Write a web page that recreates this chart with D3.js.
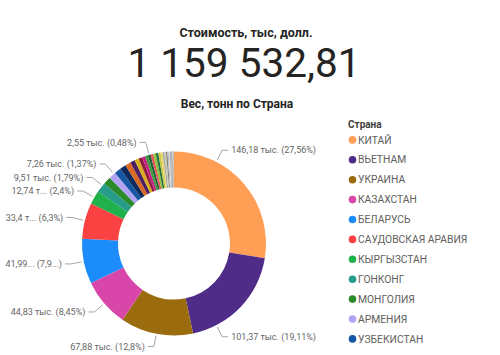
<!DOCTYPE html>
<html><head><meta charset="utf-8">
<script src="https://cdn.jsdelivr.net/npm/d3@7"></script>
<style>
html,body{margin:0;padding:0;background:#fff;}
svg{display:block;}
</style></head>
<body>
<svg id="chart" width="500" height="355"></svg>
<script>
// ---- data ----
const cardTitle = "Стоимость, тыс, долл.";
const cardValue = "1 159 532,81";
const chartTitle = "Вес, тонн по Страна";
const legendTitle = "Страна";

const categories = [
  "КИТАЙ","ВЬЕТНАМ","УКРАИНА","КАЗАХСТАН","БЕЛАРУСЬ","САУДОВСКАЯ АРАВИЯ",
  "КЫРГЫЗСТАН","ГОНКОНГ","МОНГОЛИЯ","АРМЕНИЯ","УЗБЕКИСТАН",
  "ТУРЦИЯ","ИНДИЯ","ИРАН","ТАДЖИКИСТАН","ГЕРМАНИЯ","ИТАЛИЯ","ЮЖНАЯ КОРЕЯ","ЯПОНИЯ","ПОЛЬША",
  "США","ЛИТВА","ЛАТВИЯ","ЭСТОНИЯ","ГРУЗИЯ","АЗЕРБАЙДЖАН","ТУРКМЕНИЯ","ФРАНЦИЯ","ИСПАНИЯ",
  "НИДЕРЛАНДЫ","ФИНЛЯНДИЯ","ЧЕХИЯ","ВЕНГРИЯ","СЕРБИЯ","ИЗРАИЛЬ","ЕГИПЕТ"
];
// thousand tonnes
const values = [
  146.18,101.37,67.88,44.83,41.99,33.4,
  12.74,9.51,7.26,6.5,6.1,
  5.7,5.2,4.5,4.0,3.4,2.9,2.6,2.55,2.5,
  2.4,2.3,2.1,1.9,1.7,1.5,1.3,1.2,1.0,
  0.9,0.8,0.7,0.55,0.45,0.35,0.14
];
const colors = [
  "#FF9F55","#4F2C88","#9A6C0E","#D946AA","#1C8CFB","#FB4242",
  "#1FB14C","#279C89","#2A8B2B","#B2A3F4","#1756A3",
  "#0F2A5C","#DA6A22","#4C1F62","#D8AE1E","#8E1B3E","#C51E87","#3E9A3C","#225F3B","#E05A5A",
  "#8FC23C","#1F6E4A","#C9C640","#E8D96C","#A8A8A8","#CFCFB0","#7F7F7F","#B9B9B9","#DADADA",
  "#9BA7B8","#C4B49A","#6E7F8F","#D0D0D0","#A0A0A0","#BEBEBE","#888888"
];
// data labels as displayed (truncated where the original truncates)
const labelCategories = ["КИТАЙ","ВЬЕТНАМ","УКРАИНА","КАЗАХСТАН","БЕЛАРУСЬ","САУДОВСКАЯ АРАВИЯ","КЫРГЫЗСТАН","ГОНКОНГ","МОНГОЛИЯ","ЯПОНИЯ"];
const labelTexts = [
  "146,18 тыс. (27,56%)","101,37 тыс. (19,11%)","67,88 тыс. (12,8%)","44,83 тыс. (8,45%)",
  "41,99... (7,9...)","33,4 т... (6,3%)","12,74 т... (2,4%)","9,51 тыс. (1,79%)","7,26 тыс. (1,37%)","2,55 тыс. (0,48%)"
];

// ---- layout ----
const W = 500, H = 355;
const cx = 174, cy = 243.5, rOuter = 92, rInner = 56;
const rAnchor = rOuter + 2, rElbow = 105, hSeg = 6, textGap = 3;
const rightLimit = 316, labelGap = 13.5;
const labelSize = 9;

const svg = d3.select("#chart");
const font = "Roboto, 'Noto Sans', sans-serif";
const titleFont = "Roboto, 'DejaVu Sans', sans-serif";

// card
svg.append("text").attr("x", 246).attr("y", 36.5).attr("text-anchor","middle")
  .attr("font-family", titleFont).attr("font-weight", "700").attr("font-size", 12.5)
  .attr("fill", "#252423").text(cardTitle);
svg.append("text").attr("x", 244).attr("y", 77).attr("text-anchor","middle")
  .attr("font-family", titleFont).attr("font-weight", "400").attr("font-size", 40.5)
  .attr("fill", "#252423").text(cardValue);

// chart title
svg.append("text").attr("x", 237).attr("y", 108).attr("text-anchor","middle")
  .attr("font-family", titleFont).attr("font-weight", "700").attr("font-size", 12)
  .attr("fill", "#252423").text(chartTitle);

const data = categories.map((c, i) => ({ name: c, value: values[i], color: colors[i] }));
const pie = d3.pie().sort(null).value(d => d.value);
const arcs = pie(data);
const arcGen = d3.arc().innerRadius(rInner).outerRadius(rOuter);

const g = svg.append("g").attr("transform", `translate(${cx},${cy})`);
g.selectAll("path.slice").data(arcs).join("path")
  .attr("class","slice").attr("d", arcGen).attr("fill", d => d.data.color);

// labels
const labelLayer = svg.append("g");
const measure = svg.append("text").attr("font-family", font).attr("font-size", labelSize).attr("visibility","hidden");
const labels = labelCategories.map((name, i) => {
  const a = arcs.find(d => d.data.name === name);
  const mid = (a.startAngle + a.endAngle) / 2;
  measure.text(labelTexts[i]);
  const w = measure.node().getComputedTextLength();
  return { text: labelTexts[i], mid, w, side: Math.sin(mid) >= 0 ? 1 : -1,
           y: cy - rElbow * Math.cos(mid) };
});
measure.remove();

function elbowX(l) {
  const dy = Math.min(Math.abs(l.y - cy), rElbow);
  return cx + l.side * Math.sqrt(rElbow * rElbow - dy * dy);
}
// right side: fit within limit by moving vertically
labels.filter(l => l.side > 0).forEach(l => {
  let ex = elbowX(l);
  if (ex + hSeg + textGap + l.w > rightLimit) {
    const need = rightLimit - hSeg - textGap - l.w;
    const dx = Math.max(0, need - cx);
    const dy = Math.sqrt(rElbow * rElbow - dx * dx);
    l.y = cy + Math.sign(l.y - cy) * dy;
  }
});
// collision resolution per side
[1, -1].forEach(side => {
  const s = labels.filter(l => l.side === side).sort((a, b) => a.y - b.y);
  const upper = s.filter(l => l.y < cy), lower = s.filter(l => l.y >= cy);
  for (let i = upper.length - 2; i >= 0; i--) upper[i].y = Math.min(upper[i].y, upper[i + 1].y - labelGap);
  for (let i = 1; i < lower.length; i++) lower[i].y = Math.max(lower[i].y, lower[i - 1].y + labelGap);
});

labels.forEach(l => {
  const ex = elbowX(l);
  const ang = Math.atan2(ex - cx, -(l.y - cy));
  const ax = cx + rAnchor * Math.sin(ang), ay = cy - rAnchor * Math.cos(ang);
  const hx = ex + l.side * hSeg;
  labelLayer.append("path")
    .attr("d", `M${ax},${ay}L${ex},${l.y}L${hx},${l.y}`)
    .attr("fill","none").attr("stroke","#A6A6A6").attr("stroke-width",1);
  labelLayer.append("text")
    .attr("x", hx + l.side * textGap).attr("y", l.y).attr("dy","0.35em")
    .attr("text-anchor", l.side > 0 ? "start" : "end")
    .attr("font-family", font).attr("font-size", labelSize).attr("fill","#666666")
    .text(l.text);
});

// legend
const legX = 348, legTop = 124, rowH = 19.9;
svg.append("text").attr("x", legX).attr("y", legTop).attr("dy","0.35em")
  .attr("font-family", font).attr("font-weight","700").attr("font-size", 10)
  .attr("fill","#404040").text(legendTitle);
const legendItems = data.filter((d, i) => legTop + rowH * (i + 1) + 6 <= H);
const leg = svg.append("g");
legendItems.forEach((d, i) => {
  const y = legTop + rowH * (i + 1) - 4;
  leg.append("circle").attr("cx", legX + 4.5).attr("cy", y).attr("r", 3.8).attr("fill", d.color);
  leg.append("text").attr("x", legX + 10).attr("y", y).attr("dy","0.35em")
    .attr("font-family", font).attr("font-size", 10.3).attr("fill","#605E5C").text(d.name);
});
</script>
</body></html>
